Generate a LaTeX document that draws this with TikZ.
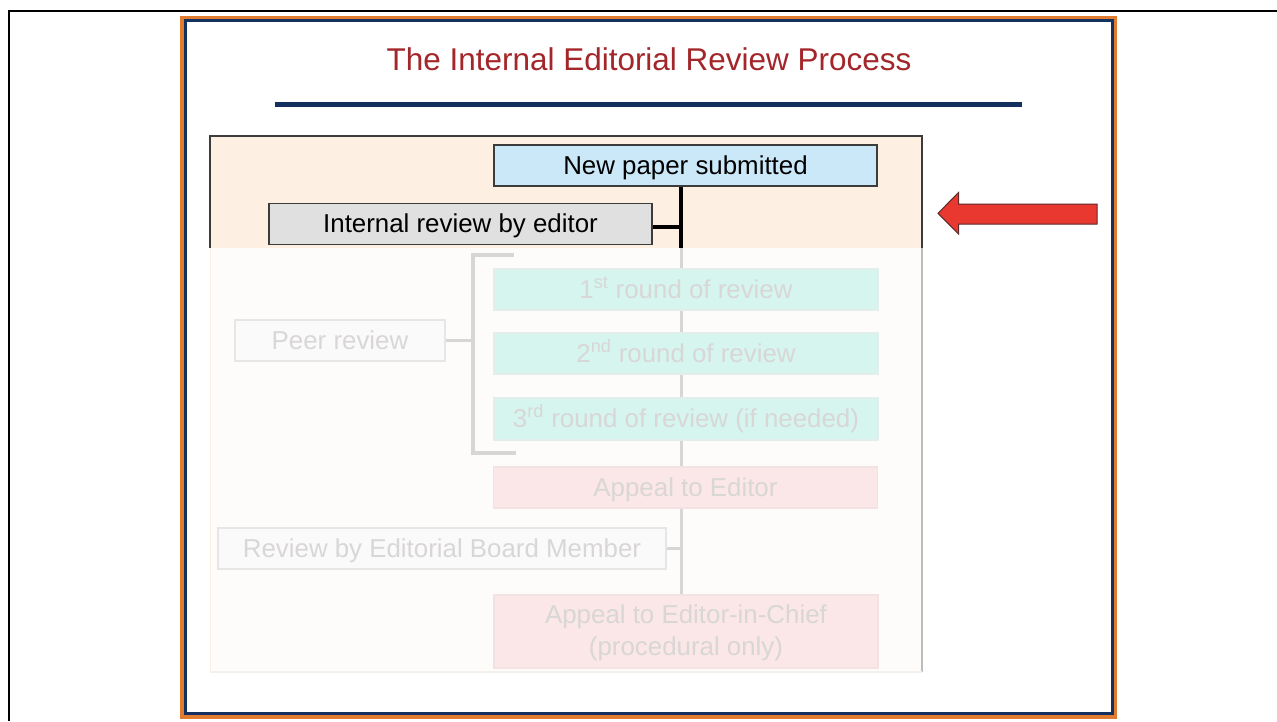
\documentclass[tikz,border=0pt]{standalone}
\usepackage{fontspec}
\setmainfont{Liberation Sans}
\usetikzlibrary{calc}
\pgfdeclarelayer{bg}
\pgfdeclarelayer{lines}
\pgfsetlayers{bg,lines,main}
\definecolor{framered}{HTML}{E07B30}
\definecolor{navy}{HTML}{14305E}
\definecolor{titlered}{HTML}{A3262A}
\definecolor{peach}{HTML}{FDF0E3}
\definecolor{lowpanel}{HTML}{FEFCFA}
\definecolor{boxline}{HTML}{3C3C3C}
\definecolor{newfill}{HTML}{CBE8F9}
\definecolor{irefill}{HTML}{E0E0E0}
\definecolor{greenfill}{HTML}{D6F5EE}
\definecolor{greenline}{HTML}{E2EEEA}
\definecolor{pinkfill}{HTML}{FBE7E7}
\definecolor{pinkline}{HTML}{F2E2E2}
\definecolor{grayfill}{HTML}{FAFAFA}
\definecolor{grayline}{HTML}{E6E6E6}
\definecolor{fadetext}{HTML}{D9D6D6}
\definecolor{fadeline}{HTML}{D6D6D6}
\definecolor{arrowred}{HTML}{E8382F}
\definecolor{arrowline}{HTML}{5E2A2A}
\begin{document}
\begin{tikzpicture}[x=0.75pt,y=-0.75pt,
  every node/.style={inner sep=0pt, outer sep=0pt},
  boxtext/.style={font=\fontsize{19.4pt}{23.3pt}\selectfont},
  topbox/.style={boxtext, draw=boxline, line width=0.9pt, text=black,
    minimum height=30.75pt, text height=17pt, text depth=3.8pt},
  fadebase/.style={boxtext, line width=0.9pt, text=fadetext},
  fadebox/.style={fadebase, minimum height=30.75pt, text height=17pt, text depth=3.8pt},
  greenbox/.style={fadebox, fill=greenfill, draw=greenline, minimum width=288pt},
  pinkbox/.style={fadebox, fill=pinkfill, draw=pinkline, minimum width=288pt},
  pinkbig/.style={fadebase, fill=pinkfill, draw=pinkline, minimum width=288pt,
    minimum height=54.75pt, align=center, text height=39.4pt, text depth=4.1pt},
  graybox/.style={fadebox, fill=grayfill, draw=grayline},
  spineblack/.style={draw=black, line width=2.6pt},
  fadeconn/.style={draw=fadeline, line width=2.25pt},
]
% canvas
\useasboundingbox (0,0) rectangle (1277,721);

\begin{pgfonlayer}{bg}
\fill[white] (0,0) rectangle (1277,721);
% outer black frame (left and top only)
\draw[line width=1.5pt] (9,721) -- (9,11) -- (1277,11);
% slide frame
\draw[framered, line width=2.6pt] (182,17.5) rectangle (1115.5,717);
\draw[navy, line width=2pt] (185.5,20.5) rectangle (1112.7,713.7);
% title rule
\draw[navy, line width=3.75pt] (275,104) -- (1022,104);
% panel
\fill[peach] (210,136) rectangle (922,248);
\fill[lowpanel] (210,248) rectangle (922,672);
\draw[boxline, line width=0.8pt] (210,248) -- (210,136) -- (922,136) -- (922,248);
\draw[color=fadeline!70!gray, line width=0.8pt] (922,248) -- (922,672);
\draw[color=peach!80!gray!40, line width=0.8pt] (210,672) -- (922,672);
\draw[color=peach, line width=0.8pt] (210.5,248) -- (210.5,672);
\end{pgfonlayer}

% title
\node[anchor=base, text=titlered, font=\fontsize{23.6pt}{28pt}\selectfont] (title) at (649,70.7)
  {The Internal Editorial Review Process};

% highlighted boxes
\node[topbox, fill=newfill, minimum width=287.25pt] (new) at (685.5,165.5) {New paper submitted};
\node[topbox, fill=irefill, minimum width=287.25pt, minimum height=31pt] (ire) at (460.5,224) {Internal review by editor};

% faded boxes
\node[greenbox] (r1) at (686,289.5) {1\textsuperscript{st} round of review};
\node[greenbox] (r2) at (686,353.5) {2\textsuperscript{nd} round of review};
\node[greenbox, minimum height=31.5pt] (r3) at (686,419) {3\textsuperscript{rd} round of review (if needed)};
\node[pinkbox] (ae) at (685.5,487.5) {Appeal to Editor};
\node[pinkbig] (eic) at (686,631.5) {Appeal to Editor-in-Chief\\(procedural only)};
\node[graybox, minimum width=157.5pt] (peer) at (340,340.5) {Peer review};
\node[graybox, minimum width=336pt] (ebm) at (442,548.5) {Review by Editorial Board Member};

% connectors
\coordinate (spx) at (681,248);
\coordinate (brt) at (473,255);
\coordinate (brb) at (473,453);
\begin{pgfonlayer}{lines}
\draw[spineblack] (new.south -| spx) -- ([yshift=0.3pt]spx);
\draw[spineblack, line width=3pt] ($(ire.east)+(0,2.5)$) -- ($(ire.east -| spx)+(0,2.5)$);
\draw[fadeconn] (spx) -- (eic.north -| spx);
\draw[fadeconn] (ebm.east) -- (ebm.east -| spx);
\draw[fadeconn, line width=2.8pt] ($(brt)+(41,0)$) -- (brt) -- (brb) -- ($(brb)+(43,0)$);
\draw[fadeconn] (peer.east) -- (peer.east -| brt);
\end{pgfonlayer}

% red pointer arrow
\draw[fill=arrowred, draw=arrowline, line width=0.75pt, line join=miter]
  (938,213.3) -- (958.5,192.5) -- (958.5,204) -- (1097,204) -- (1097,224)
  -- (958.5,224) -- (958.5,234) -- cycle;
\end{tikzpicture}
\end{document}
